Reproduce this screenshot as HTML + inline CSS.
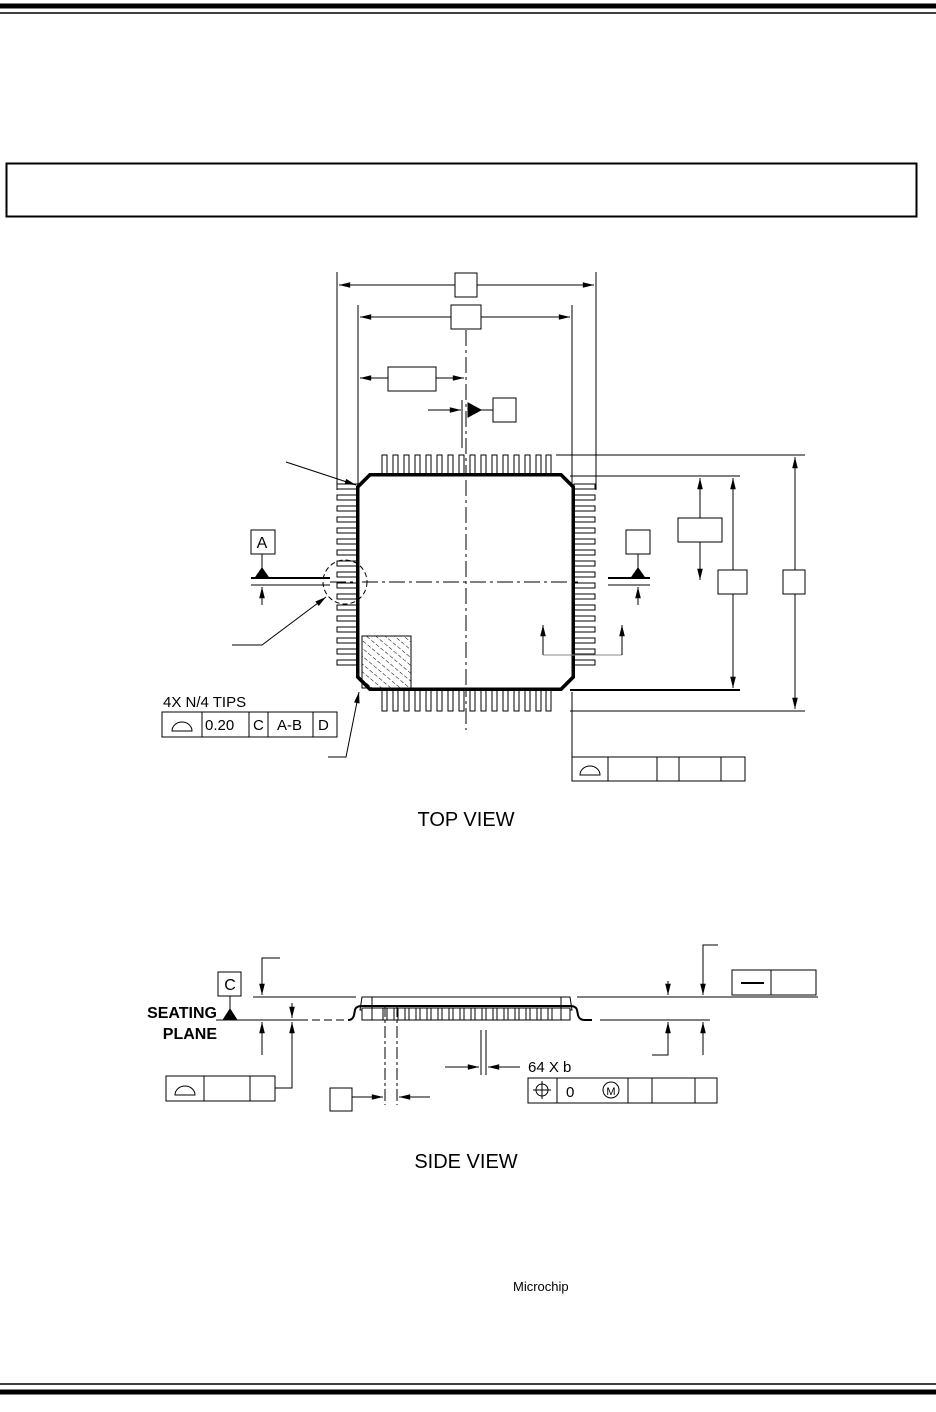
<!DOCTYPE html>
<html><head><meta charset="utf-8"><style>
body{margin:0;background:#fff}
svg{display:block}
text{font-family:"Liberation Sans",Arial,sans-serif;fill:#000}
</style></head><body>
<svg width="936" height="1412" viewBox="0 0 936 1412" xmlns="http://www.w3.org/2000/svg">
<defs>
<marker id="a" viewBox="0 0 14 10" refX="14" refY="5" markerWidth="14" markerHeight="8" orient="auto-start-reverse" markerUnits="userSpaceOnUse"><path d="M0,1.5L14,5L0,8.5z" fill="#000"/></marker>
<pattern id="h" width="6" height="6" patternUnits="userSpaceOnUse" patternTransform="rotate(-50)"><line x1="0" y1="0" x2="0" y2="6" stroke="#000" stroke-width="1" stroke-dasharray="4,2"/></pattern>
</defs>
<g stroke="#000" fill="none">
<line x1="0" y1="6" x2="936" y2="6" stroke-width="5"/>
<line x1="0" y1="13" x2="936" y2="13" stroke-width="1.5"/>
<line x1="0" y1="1384" x2="936" y2="1384" stroke-width="1.5"/>
<line x1="0" y1="1392" x2="936" y2="1392" stroke-width="5"/>
<rect x="6.5" y="163.5" width="910" height="53" stroke-width="2"/>

<line x1="337" y1="272" x2="337" y2="490"/>
<line x1="596" y1="272" x2="596" y2="490"/>
<line x1="339" y1="285" x2="455" y2="285" marker-start="url(#a)"/>
<line x1="477" y1="285" x2="594" y2="285" marker-end="url(#a)"/>
<rect x="455" y="273" width="22" height="24" fill="#fff"/>
<line x1="358" y1="305" x2="358" y2="490"/>
<line x1="572" y1="305" x2="572" y2="490"/>
<line x1="360" y1="317" x2="451" y2="317" marker-start="url(#a)"/>
<line x1="481" y1="317" x2="570" y2="317" marker-end="url(#a)"/>
<rect x="451" y="305" width="30" height="24" fill="#fff"/>
<line x1="360" y1="378" x2="388" y2="378" marker-start="url(#a)"/>
<line x1="436" y1="378" x2="464" y2="378" marker-end="url(#a)"/>
<rect x="388" y="367" width="48" height="24"/>
<line x1="428" y1="410" x2="461" y2="410" marker-end="url(#a)"/>
<path d="M468,403L481,410L468,417z" fill="#000"/>
<line x1="481" y1="410" x2="493" y2="410"/>
<rect x="493" y="398" width="23" height="24"/>
<line x1="462" y1="400" x2="462" y2="448"/>
<line x1="466" y1="330" x2="466" y2="730" stroke-dasharray="16,4,3,4"/>
<line x1="330" y1="582" x2="578" y2="582" stroke-dasharray="16,4,3,4"/>
</g>
<g fill="#fff" stroke="#000" stroke-width="1">
<rect x="382" y="455" width="5" height="20"/><rect x="393" y="455" width="5" height="20"/><rect x="404" y="455" width="5" height="20"/><rect x="415" y="455" width="5" height="20"/><rect x="426" y="455" width="5" height="20"/><rect x="437" y="455" width="5" height="20"/><rect x="448" y="455" width="5" height="20"/><rect x="459" y="455" width="5" height="20"/><rect x="470" y="455" width="5" height="20"/><rect x="481" y="455" width="5" height="20"/><rect x="492" y="455" width="5" height="20"/><rect x="503" y="455" width="5" height="20"/><rect x="514" y="455" width="5" height="20"/><rect x="525" y="455" width="5" height="20"/><rect x="536" y="455" width="5" height="20"/><rect x="546" y="455" width="5" height="20"/>
<rect x="382" y="690" width="5" height="21"/><rect x="393" y="690" width="5" height="21"/><rect x="404" y="690" width="5" height="21"/><rect x="415" y="690" width="5" height="21"/><rect x="426" y="690" width="5" height="21"/><rect x="437" y="690" width="5" height="21"/><rect x="448" y="690" width="5" height="21"/><rect x="459" y="690" width="5" height="21"/><rect x="470" y="690" width="5" height="21"/><rect x="481" y="690" width="5" height="21"/><rect x="492" y="690" width="5" height="21"/><rect x="503" y="690" width="5" height="21"/><rect x="514" y="690" width="5" height="21"/><rect x="525" y="690" width="5" height="21"/><rect x="536" y="690" width="5" height="21"/><rect x="546" y="690" width="5" height="21"/>
<rect x="337" y="484" width="21" height="5"/><rect x="337" y="495" width="21" height="5"/><rect x="337" y="506" width="21" height="5"/><rect x="337" y="517" width="21" height="5"/><rect x="337" y="528" width="21" height="5"/><rect x="337" y="539" width="21" height="5"/><rect x="337" y="550" width="21" height="5"/><rect x="337" y="561" width="21" height="5"/><rect x="337" y="572" width="21" height="5"/><rect x="337" y="583" width="21" height="5"/><rect x="337" y="594" width="21" height="5"/><rect x="337" y="605" width="21" height="5"/><rect x="337" y="616" width="21" height="5"/><rect x="337" y="627" width="21" height="5"/><rect x="337" y="638" width="21" height="5"/><rect x="337" y="649" width="21" height="5"/><rect x="337" y="660" width="21" height="5"/>
<rect x="574" y="484" width="21" height="5"/><rect x="574" y="495" width="21" height="5"/><rect x="574" y="506" width="21" height="5"/><rect x="574" y="517" width="21" height="5"/><rect x="574" y="528" width="21" height="5"/><rect x="574" y="539" width="21" height="5"/><rect x="574" y="550" width="21" height="5"/><rect x="574" y="561" width="21" height="5"/><rect x="574" y="572" width="21" height="5"/><rect x="574" y="583" width="21" height="5"/><rect x="574" y="594" width="21" height="5"/><rect x="574" y="605" width="21" height="5"/><rect x="574" y="616" width="21" height="5"/><rect x="574" y="627" width="21" height="5"/><rect x="574" y="638" width="21" height="5"/><rect x="574" y="649" width="21" height="5"/><rect x="574" y="660" width="21" height="5"/>
</g>
<g stroke="#000" fill="none">
<path d="M370,475H561L573,487V677L561,689H370L358,677V487z" fill="#fff" stroke-width="4"/>
<path d="M371,477H560L571,488V676L560,687H371L360,676V488z" stroke="#fff" stroke-width="1"/>
<rect x="362" y="636" width="49" height="52" fill="url(#h)" stroke-width="1"/>
<line x1="466" y1="480" x2="466" y2="686" stroke-dasharray="16,4,3,4"/>
<line x1="362" y1="582" x2="570" y2="582" stroke-dasharray="16,4,3,4"/>
<circle cx="345" cy="582" r="22" stroke-dasharray="5,3"/>
<line x1="286" y1="462" x2="356" y2="485" marker-end="url(#a)"/>
<polyline points="232,645 262,645 326,597" marker-end="url(#a)"/>
<polyline points="328,757 346,757 359,692" marker-end="url(#a)"/>
<rect x="251" y="530" width="24" height="24"/>
<line x1="262" y1="554" x2="262" y2="570"/>
<path d="M255,578L262,568L269,578z" fill="#000"/>
<line x1="251" y1="578" x2="330" y2="578" stroke-width="2"/>
<line x1="251" y1="585" x2="330" y2="585"/>
<line x1="262" y1="605" x2="262" y2="587" marker-end="url(#a)"/>
<rect x="626" y="530" width="24" height="24"/>
<line x1="638" y1="554" x2="638" y2="570"/>
<path d="M631,578L638,568L645,578z" fill="#000"/>
<line x1="608" y1="578" x2="650" y2="578" stroke-width="2"/>
<line x1="608" y1="585" x2="650" y2="585"/>
<line x1="638" y1="605" x2="638" y2="587" marker-end="url(#a)"/>
<line x1="556" y1="455" x2="805" y2="455"/>
<line x1="570" y1="476" x2="740" y2="476"/>
<line x1="570" y1="690" x2="740" y2="690" stroke-width="2"/>
<line x1="570" y1="711" x2="805" y2="711"/>
<line x1="700" y1="518" x2="700" y2="478" marker-end="url(#a)"/>
<line x1="700" y1="542" x2="700" y2="580" marker-end="url(#a)"/>
<rect x="678" y="518" width="44" height="24" fill="#fff"/>
<line x1="733" y1="570" x2="733" y2="478" marker-end="url(#a)"/>
<line x1="733" y1="594" x2="733" y2="688" marker-end="url(#a)"/>
<rect x="718" y="570" width="29" height="24" fill="#fff"/>
<line x1="795" y1="570" x2="795" y2="457" marker-end="url(#a)"/>
<line x1="795" y1="594" x2="795" y2="709" marker-end="url(#a)"/>
<rect x="783" y="570" width="22" height="24" fill="#fff"/>
<polyline points="543,655 543,625" marker-end="url(#a)"/>
<line x1="543" y1="655" x2="622" y2="655" stroke="#888"/>
<line x1="622" y1="655" x2="622" y2="625" marker-end="url(#a)"/>
<rect x="162" y="712" width="175" height="25"/>
<line x1="202" y1="712" x2="202" y2="737"/><line x1="249" y1="712" x2="249" y2="737"/><line x1="268" y1="712" x2="268" y2="737"/><line x1="313" y1="712" x2="313" y2="737"/>
<path d="M172,731A10,9 0 0 1 192,731Z"/>
<line x1="572" y1="692" x2="572" y2="757"/>
<rect x="572" y="757" width="173" height="24"/>
<line x1="608" y1="757" x2="608" y2="781"/><line x1="657" y1="757" x2="657" y2="781"/><line x1="679" y1="757" x2="679" y2="781"/><line x1="721" y1="757" x2="721" y2="781"/>
<path d="M580,775A10,9 0 0 1 600,775Z"/>

<line x1="253" y1="997" x2="356" y2="997"/>
<line x1="577" y1="997" x2="818" y2="997"/>
<line x1="216" y1="1020" x2="300" y2="1020"/>
<line x1="300" y1="1020" x2="350" y2="1020" stroke-dasharray="8,4"/>
<line x1="600" y1="1020" x2="710" y2="1020"/>
<rect x="218" y="972" width="23" height="24"/>
<line x1="230" y1="996" x2="230" y2="1010"/>
<path d="M223,1020L230,1009L237,1020z" fill="#000"/>
<polyline points="280,958 262,958 262,995" marker-end="url(#a)"/>
<line x1="262" y1="1055" x2="262" y2="1022" marker-end="url(#a)"/>
<line x1="292" y1="1003" x2="292" y2="1018" marker-end="url(#a)"/>
<polyline points="275,1088 292,1088 292,1022" marker-end="url(#a)"/>
<rect x="166" y="1076" width="109" height="25"/>
<line x1="204" y1="1076" x2="204" y2="1101"/><line x1="250" y1="1076" x2="250" y2="1101"/>
<path d="M175,1095A10,9 0 0 1 195,1095Z"/>
<path d="M362,997H570L572,1010H360z" fill="#fff"/>
<path d="M348,1020Q353,1020 354,1015L355,1010Q356,1006 362,1006H570Q576,1006 577,1010L578,1015Q579,1020 585,1020H592" stroke-width="2"/>
<rect x="362" y="1008" width="208" height="12" fill="#fff"/>
<line x1="372" y1="997" x2="372" y2="1020"/><line x1="561" y1="997" x2="561" y2="1020"/>
<g stroke-width="1">
<rect x="383" y="1008" width="4" height="12"/><rect x="394" y="1008" width="4" height="12"/><rect x="405" y="1008" width="4" height="12"/><rect x="416" y="1008" width="4" height="12"/><rect x="427" y="1008" width="4" height="12"/><rect x="438" y="1008" width="4" height="12"/><rect x="449" y="1008" width="4" height="12"/><rect x="460" y="1008" width="4" height="12"/><rect x="471" y="1008" width="4" height="12"/><rect x="482" y="1008" width="4" height="12"/><rect x="493" y="1008" width="4" height="12"/><rect x="504" y="1008" width="4" height="12"/><rect x="515" y="1008" width="4" height="12"/><rect x="526" y="1008" width="4" height="12"/><rect x="537" y="1008" width="4" height="12"/><rect x="548" y="1008" width="4" height="12"/>
</g>
<line x1="385" y1="1005" x2="385" y2="1105" stroke-dasharray="12,3,3,3"/>
<line x1="397" y1="1005" x2="397" y2="1105" stroke-dasharray="12,3,3,3"/>
<rect x="330" y="1088" width="22" height="23"/>
<line x1="352" y1="1097" x2="383" y2="1097" marker-end="url(#a)"/>
<line x1="430" y1="1097" x2="399" y2="1097" marker-end="url(#a)"/>
<line x1="481" y1="1030" x2="481" y2="1075"/><line x1="486" y1="1030" x2="486" y2="1075"/>
<line x1="445" y1="1067" x2="479" y2="1067" marker-end="url(#a)"/>
<line x1="520" y1="1067" x2="488" y2="1067" marker-end="url(#a)"/>
<rect x="528" y="1078" width="189" height="25"/>
<line x1="557" y1="1078" x2="557" y2="1103"/><line x1="628" y1="1078" x2="628" y2="1103"/><line x1="652" y1="1078" x2="652" y2="1103"/><line x1="695" y1="1078" x2="695" y2="1103"/>
<circle cx="542" cy="1090" r="6"/><line x1="542" y1="1081" x2="542" y2="1099"/><line x1="533" y1="1090" x2="551" y2="1090"/>
<circle cx="611" cy="1090" r="8"/>
<polyline points="718,945 703,945 703,995" marker-end="url(#a)"/>
<line x1="703" y1="1055" x2="703" y2="1022" marker-end="url(#a)"/>
<line x1="668" y1="981" x2="668" y2="995" marker-end="url(#a)"/>
<polyline points="652,1055 668,1055 668,1022" marker-end="url(#a)"/>
<rect x="732" y="970" width="84" height="25"/>
<line x1="771" y1="970" x2="771" y2="995"/>
<line x1="741" y1="983" x2="764" y2="983" stroke-width="2"/>
</g>
<g font-size="15">
<text x="262" y="548" text-anchor="middle" font-size="16">A</text>
<text x="230" y="990" text-anchor="middle" font-size="16">C</text>
<text x="163" y="707">4X N/4 TIPS</text>
<text x="205" y="730">0.20</text>
<text x="253" y="730">C</text>
<text x="277" y="730">A-B</text>
<text x="318" y="730">D</text>
<text x="528" y="1072">64 X b</text>
<text x="566" y="1097">0</text>
<text x="611" y="1095" text-anchor="middle" font-size="11">M</text>
<text x="217" y="1018" text-anchor="end" font-weight="bold" font-size="16">SEATING</text>
<text x="217" y="1039" text-anchor="end" font-weight="bold" font-size="16">PLANE</text>
<text x="466" y="826" text-anchor="middle" font-size="20">TOP VIEW</text>
<text x="466" y="1168" text-anchor="middle" font-size="20">SIDE VIEW</text>
<text x="513" y="1291" font-size="13">Microchip</text>
</g>
</svg>
</body></html>
